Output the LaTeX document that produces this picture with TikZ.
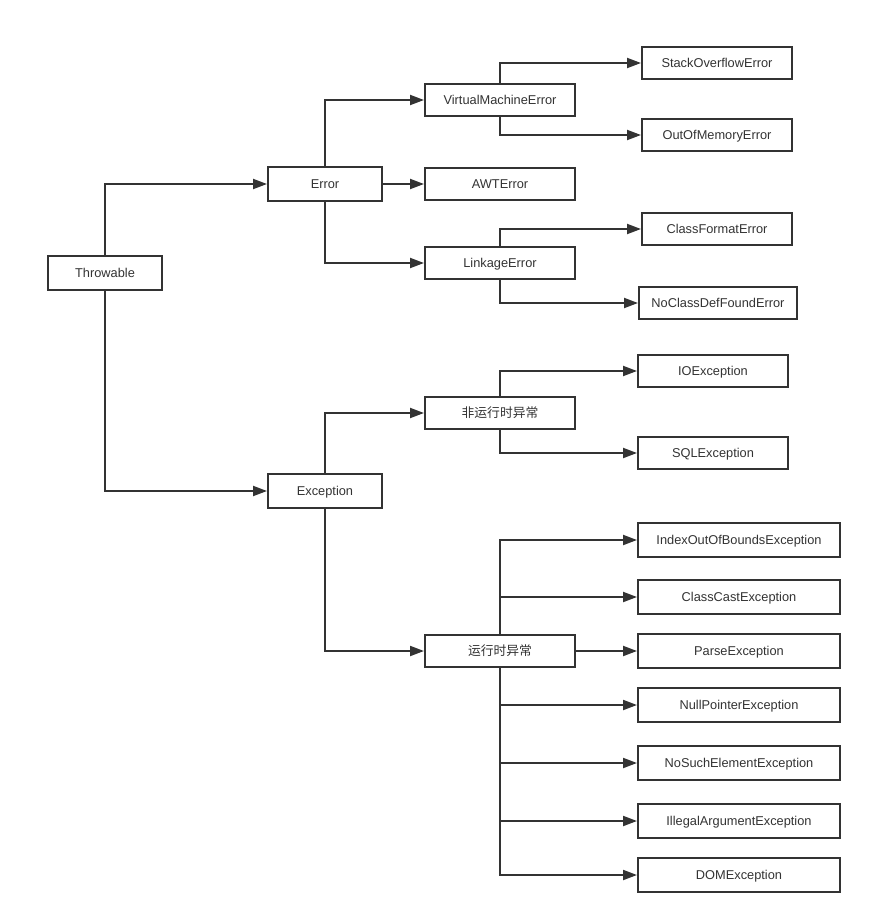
\documentclass[tikz,border=0pt]{standalone}
\usepackage{fontspec}
\setmainfont{Liberation Sans}
\newfontfamily\cjk{Noto Sans CJK SC}
\usetikzlibrary{arrows.meta}
\definecolor{ink}{HTML}{333333}
\begin{document}
\begin{tikzpicture}[x=1pt,y=-1pt,
  box/.style={draw=ink,line width=2pt,text=ink,inner sep=0pt,
    minimum width=150pt,minimum height=32pt,text height=9.4pt,text depth=0pt,
    font=\fontsize{12.8}{15}\selectfont},
  wide/.style={box,minimum width=114pt,minimum height=34pt},
  long/.style={box,minimum width=202pt,minimum height=34pt},
  arr/.style={draw=ink,line width=2pt,-{Triangle[length=14pt,width=10pt]}}]
\fill[white] (0,0) rectangle (870,924);
\useasboundingbox (0,0) rectangle (870,924);

\node[wide] (thr) at (105,273) {Throwable};
\node[wide] (err) at (325,184) {Error};
\node[wide] (exc) at (325,491) {Exception};

\node[box] (vme) at (500,100) {VirtualMachineError};
\node[box] (awt) at (500,184) {AWTError};
\node[box] (link) at (500,263) {LinkageError};
\node[box] (soe) at (717,63) {StackOverflowError};
\node[box] (oom) at (717,135) {OutOfMemoryError};
\node[box] (cfe) at (717,229) {ClassFormatError};
\node[box,minimum width=158pt] (ncdf) at (718,303) {NoClassDefFoundError};

\node[box] (nrt) at (500,413) {\cjk 非运行时异常};
\node[box] (ioe) at (713,371) {IOException};
\node[box] (sql) at (713,453) {SQLException};

\node[box] (rt) at (500,651) {\cjk 运行时异常};
\node[long] (ioob) at (739,540) {IndexOutOfBoundsException};
\node[long] (cc) at (739,597) {ClassCastException};
\node[long] (parse) at (739,651) {ParseException};
\node[long] (np) at (739,705) {NullPointerException};
\node[long] (nse) at (739,763) {NoSuchElementException};
\node[long] (iae) at (739,821) {IllegalArgumentException};
\node[long] (dom) at (739,875) {DOMException};

\draw[arr] (thr.north) |- (err.west);
\draw[arr] (thr.south) |- (exc.west);

\draw[arr] (err.north) |- (vme.west);
\draw[arr] (err.east) -- (awt.west);
\draw[arr] (err.south) |- (link.west);

\draw[arr] (vme.north) |- (soe.west);
\draw[arr] (vme.south) |- (oom.west);
\draw[arr] (link.north) |- (cfe.west);
\draw[arr] (link.south) |- (ncdf.west);

\draw[arr] (exc.north) |- (nrt.west);
\draw[arr] (exc.south) |- (rt.west);
\draw[arr] (nrt.north) |- (ioe.west);
\draw[arr] (nrt.south) |- (sql.west);

\draw[arr] (rt.north) |- (ioob.west);
\draw[arr] (rt.north) |- (cc.west);
\draw[arr] (rt.east) -- (parse.west);
\draw[arr] (rt.south) |- (np.west);
\draw[arr] (rt.south) |- (nse.west);
\draw[arr] (rt.south) |- (iae.west);
\draw[arr] (rt.south) |- (dom.west);
\end{tikzpicture}
\end{document}
